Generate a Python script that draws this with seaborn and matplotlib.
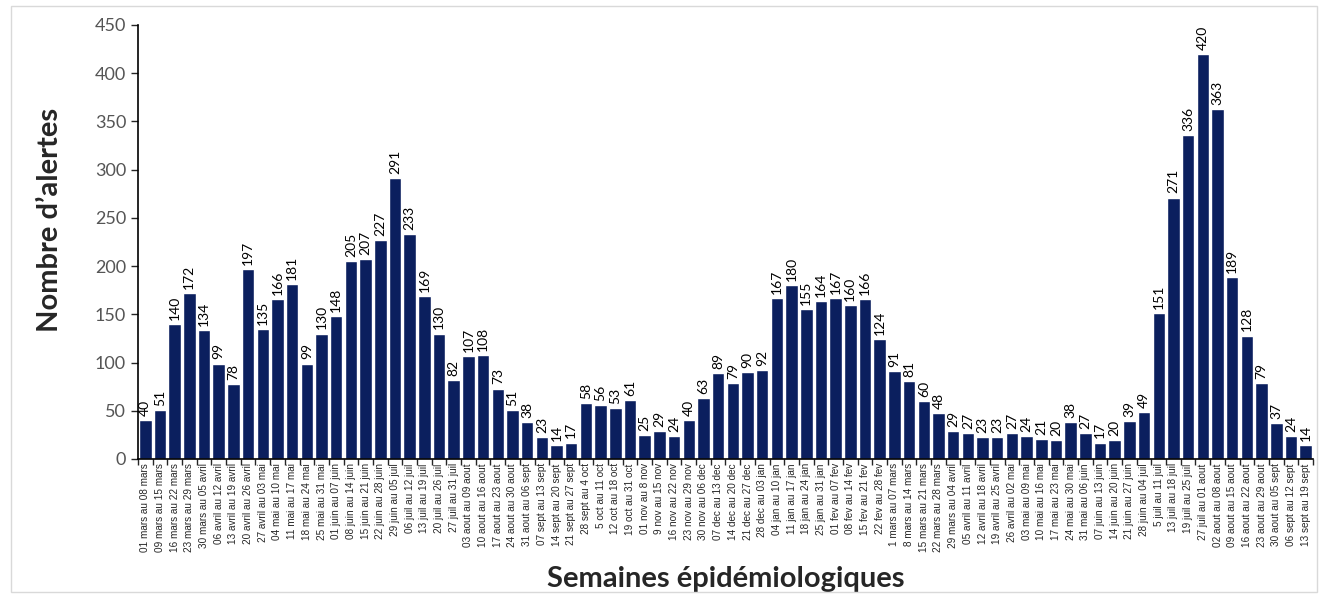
import matplotlib
matplotlib.use("Agg")
import matplotlib.pyplot as plt
import seaborn as sns
import pandas as pd
from matplotlib.patches import Rectangle

sns.set_style("white")
plt.rcParams['font.family'] = ['Lato', 'DejaVu Sans']

semaines = [
    "01 mars au 08 mars", "09 mars au 15 mars", "16 mars au 22 mars", "23 mars au 29 mars",
    "30 mars au 05 avril", "06 avril au 12 avril", "13 avril au 19 avril", "20 avril au 26 avril",
    "27 avril au 03 mai", "04 mai au 10 mai", "11 mai au 17 mai", "18 mai au 24 mai",
    "25 mai au 31 mai", "01 juin au 07 juin", "08 juin au 14 juin", "15 juin au 21 juin",
    "22 juin au 28 juin", "29 juin au 05 juil", "06 juil au 12 juil", "13 juil au 19 juil",
    "20 juil au 26 juil", "27 juil au 31 juil", "03 aout au 09 aout", "10 aout au 16 aout",
    "17 aout au 23 aout", "24 aout au 30 aout", "31 aout au 06 sept", "07 sept au 13 sept",
    "14 sept au 20 sept", "21 sept au 27 sept", "28 sept au 4 oct", "5 oct au 11 oct",
    "12 oct au 18 oct", "19 oct au 31 oct", "01 nov au 8 nov", "9 nov au 15 nov",
    "16 nov au 22 nov", "23 nov au 29 nov", "30 nov au 06 dec", "07 dec au 13 dec",
    "14 dec au 20 dec", "21 dec au 27 dec", "28 dec au 03 jan", "04 jan au 10 jan",
    "11 jan au 17 jan", "18 jan au 24 jan", "25 jan au 31 jan", "01 fev au 07 fev",
    "08 fev au 14 fev", "15 fev au 21 fev", "22 fev au 28 fev", "1 mars au 07 mars",
    "8 mars au 14 mars", "15 mars au 21 mars", "22 mars au 28 mars", "29 mars au 04 avril",
    "05 avril au 11 avril", "12 avril au 18 avril", "19 avril au 25 avril", "26 avril au 02 mai",
    "03 mai au 09 mai", "10 mai au 16 mai", "17 mai au 23 mai", "24 mai au 30 mai",
    "31 mai au 06 juin", "07 juin au 13 juin", "14 juin au 20 juin", "21 juin au 27 juin",
    "28 juin au 04 juil", "5 juil au 11 juil", "13 juil au 18 juil", "19 juil au 25 juil",
    "27 juil au 01 aout", "02 aout au 08 aout", "09 aout au 15 aout", "16 aout au 22 aout",
    "23 aout au 29 aout", "30 aout au 05 sept", "06 sept au 12 sept", "13 sept au 19 sept",
]

alertes = [
    40, 51, 140, 172, 134, 99, 78, 197, 135, 166,
    181, 99, 130, 148, 205, 207, 227, 291, 233, 169,
    130, 82, 107, 108, 73, 51, 38, 23, 14, 17,
    58, 56, 53, 61, 25, 29, 24, 40, 63, 89,
    79, 90, 92, 167, 180, 155, 164, 167, 160, 166,
    124, 91, 81, 60, 48, 29, 27, 23, 23, 27,
    24, 21, 20, 38, 27, 17, 20, 39, 49, 151,
    271, 336, 420, 363, 189, 128, 79, 37, 24, 14,
]

df = pd.DataFrame({"semaine": semaines, "alertes": alertes})

fig = plt.figure(figsize=(13.2, 5.95), dpi=100)
ax = fig.add_axes([0.1045, 0.2286, 0.8902, 0.7294])

sns.barplot(data=df, x="semaine", y="alertes", order=semaines,
            color="#0b1f5e", saturation=1, width=0.85, ax=ax)

for cont in ax.containers:
    ax.bar_label(cont, rotation=90, padding=3, fontsize=10, color="black")

ax.set_ylim(0, 450)
ax.set_yticks(range(0, 451, 50))
ax.set_xlim(-0.5, len(semaines) - 0.5)
ax.tick_params(axis="y", labelsize=13, labelcolor="#555555", length=5, width=1, direction="out", left=True)
ax.set_xticks(range(len(semaines)))
ax.set_xticklabels(semaines, rotation=90, fontsize=7.2, family=["Liberation Sans", "DejaVu Sans"])
ax.tick_params(axis="x", length=0, pad=3)
ax.set_xticks([i - 0.5 for i in range(len(semaines) + 1)], minor=True)
ax.tick_params(axis="x", which="minor", length=4, width=1, direction="out", bottom=True)

for s in ["top", "right"]:
    ax.spines[s].set_visible(False)
for s in ["left", "bottom"]:
    ax.spines[s].set_color("black")
    ax.spines[s].set_linewidth(1.2)

ax.set_ylabel("Nombre d\u2019alertes", fontsize=21, fontweight="bold")
ax.yaxis.set_label_coords(-0.064, 0.55)
ax.set_xlabel("Semaines épidémiologiques", fontsize=21, fontweight="bold", labelpad=10)

fig.patches.append(Rectangle((0.008, 0.005), 0.99, 0.985, transform=fig.transFigure,
                             fill=False, edgecolor="#d9d9d9", linewidth=1))

fig.savefig("out.png", dpi=100)
